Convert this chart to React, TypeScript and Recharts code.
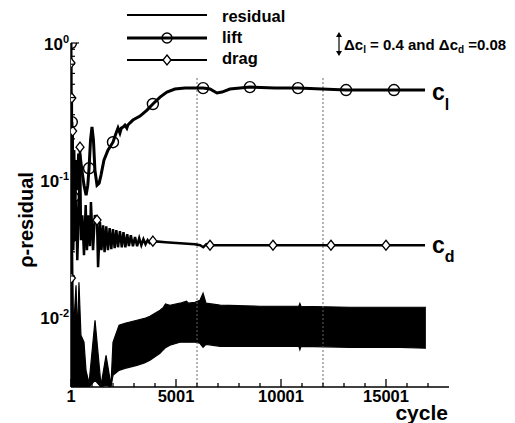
import React from 'react';
import { ComposedChart, Line, Area, XAxis, YAxis, ReferenceLine } from 'recharts';

// ---------- data ----------
// residual band: cycle, lower envelope, upper envelope
const residualCycles = [1, 50, 120, 240, 310, 380, 475, 620, 715, 860, 1145, 1430, 1670, 1905, 2000, 2290, 2570, 3140, 3500, 3760, 4240, 4400, 4500, 4710, 5190, 5500, 5600, 5900, 6140, 6290, 6430, 7100, 9000, 10850, 10900, 10950, 13290, 15670, 16900];
const residualLow = [0.0031, 0.0031, 0.0031, 0.0031, 0.0031, 0.0031, 0.0031, 0.0031, 0.0031, 0.0031, 0.00347, 0.0031, 0.00319, 0.0031, 0.00377, 0.0041, 0.00424, 0.00446, 0.00465, 0.00485, 0.00546, 0.0058, 0.0060, 0.00625, 0.00657, 0.00657, 0.00657, 0.00657, 0.00646, 0.00604, 0.00635, 0.00614, 0.00614, 0.00614, 0.0058, 0.00614, 0.00604, 0.00604, 0.00594];
const residualHigh = [1.0, 0.0715, 0.00804, 0.01713, 0.00739, 0.01801, 0.00739, 0.00657, 0.0041, 0.0033, 0.00951, 0.00319, 0.00528, 0.00319, 0.00657, 0.00874, 0.00904, 0.00951, 0.0098, 0.01017, 0.01125, 0.0118, 0.0125, 0.01224, 0.01266, 0.0131, 0.01266, 0.01287, 0.0133, 0.01497, 0.01266, 0.01224, 0.01203, 0.01203, 0.0126, 0.01203, 0.01183, 0.01183, 0.01183];

// lift coefficient (plotted on the residual axis)
const liftCycles = [1, 20, 40, 60, 80, 100, 140, 190, 240, 300, 360, 430, 520, 620, 720, 800, 860, 930, 1000, 1070, 1140, 1240, 1340, 1430, 1570, 1760, 2000, 2150, 2240, 2330, 2400, 2480, 2570, 2660, 2710, 2800, 2950, 3290, 3620, 3900, 4240, 4570, 4950, 5430, 5900, 6290, 6620, 6950, 7190, 7570, 8050, 8520, 9710, 10810, 11950, 13100, 14240, 15380, 16860];
const liftValues = [1.0, 0.0051, 0.265, 0.039, 0.107, 0.0751, 0.1656, 0.0604, 0.14, 0.0845, 0.1522, 0.1522, 0.1183, 0.0919, 0.0777, 0.0919, 0.122, 0.196, 0.244, 0.196, 0.1183, 0.0919, 0.095, 0.1088, 0.14, 0.1656, 0.189, 0.2205, 0.2397, 0.2205, 0.2397, 0.244, 0.252, 0.2397, 0.252, 0.2606, 0.2742, 0.2932, 0.3243, 0.359, 0.4033, 0.4388, 0.4616, 0.469, 0.469, 0.469, 0.4616, 0.432, 0.4388, 0.4616, 0.469, 0.477, 0.469, 0.469, 0.4616, 0.454, 0.454, 0.454, 0.454];
const liftMarkerCycles = [1, 20, 40, 60, 80, 100, 860, 2000, 3900, 6290, 8520, 10810, 13100, 15380];

// drag coefficient (plotted on the residual axis)
const dragCycles = [1, 20, 40, 60, 80, 110, 150, 200, 250, 300, 380, 430, 480, 540, 620, 700, 760, 830, 900, 950, 1050, 1140, 1240, 1290, 1380, 1450, 1530, 1600, 1680, 1760, 1840, 1920, 2000, 2080, 2160, 2240, 2330, 2420, 2500, 2590, 2680, 2760, 2850, 2950, 3050, 3150, 3250, 3350, 3450, 3550, 3650, 3750, 3900, 4500, 5200, 5900, 6150, 6300, 6450, 6620, 7500, 9620, 12380, 15000, 16860];
const dragValues = [0.7145, 0.0193, 0.397, 0.0604, 0.228, 0.0308, 0.0845, 0.0365, 0.0715, 0.0261, 0.0657, 0.174, 0.0365, 0.0555, 0.0284, 0.0657, 0.0308, 0.0555, 0.033, 0.0691, 0.0308, 0.0555, 0.0511, 0.0232, 0.0494, 0.0308, 0.0469, 0.0298, 0.0461, 0.0308, 0.0446, 0.0314, 0.0439, 0.0319, 0.0432, 0.0324, 0.0424, 0.0324, 0.0417, 0.0324, 0.0403, 0.033, 0.0397, 0.033, 0.0384, 0.033, 0.0377, 0.0335, 0.0371, 0.0341, 0.0365, 0.0347, 0.0359, 0.0353, 0.0347, 0.0341, 0.0335, 0.0324, 0.0341, 0.0335, 0.0335, 0.0335, 0.0335, 0.0335, 0.0335];
const dragMarkerCycles = [1, 20, 40, 80, 430, 1240, 3900, 6620, 9620, 12380, 15000];

// axes
const xTicks = [1, 1001, 2001, 3001, 4001, 5001, 6001, 7001, 8001, 9001, 10001, 11001, 12001, 13001, 14001, 15001, 16001, 17001];
const xMajorTicks = [1, 5001, 10001, 15001];
const yTicks = [1, 0.9, 0.8, 0.7, 0.6, 0.5, 0.4, 0.3, 0.2, 0.1, 0.09, 0.08, 0.07, 0.06, 0.05, 0.04, 0.03, 0.02, 0.01, 0.009, 0.008, 0.007, 0.006, 0.005, 0.004];
const yMajorTicks = [1, 0.1, 0.01];
const refCycles = [6001, 12001];
const refTop = 0.555;
const yDomain = [0.0031, 1];
const xDomain = [1, 18001];

const residualData = residualCycles.map((c, i) => ({ c, r: [residualLow[i], residualHigh[i]] }));
const liftData = liftCycles.map((c, i) => ({ c, v: liftValues[i] }));
const dragData = dragCycles.map((c, i) => ({ c, v: dragValues[i] }));

const FONT = "'Liberation Sans', Arial, Helvetica, sans-serif";

const XTick = (props: any) => {
  const { x, y, payload } = props;
  const major = xMajorTicks.includes(payload.value);
  return (
    <g>
      <line x1={x} x2={x} y1={y} y2={y - (major ? 8 : 4)} stroke="#000" strokeWidth={1.3} />
      {major && (
        <text x={x} y={y + 15} textAnchor="middle" fontFamily={FONT} fontWeight="bold" fontSize={16.5} fill="#000">
          {String(payload.value)}
        </text>
      )}
    </g>
  );
};

const YTick = (props: any) => {
  const { x, y, payload } = props;
  const major = yMajorTicks.includes(payload.value);
  const exp = Math.round(Math.log10(payload.value));
  return (
    <g>
      <line x1={x} x2={x + (major ? 8 : 4)} y1={y} y2={y} stroke="#000" strokeWidth={1.2} />
      {major && (
        <text x={x - 2} y={y + 7} textAnchor="end" fontFamily={FONT} fontWeight="bold" fontSize={17} fill="#000">
          10<tspan dy={-7} fontSize={11}>{String(exp)}</tspan>
        </text>
      )}
    </g>
  );
};

const liftDot = (p: any) =>
  liftMarkerCycles.includes(p.payload?.c) ? (
    <circle key={`ld${p.index}`} cx={p.cx} cy={p.cy} r={5.5} fill="none" stroke="#000" strokeWidth={1.4} />
  ) : (
    <g key={`ld${p.index}`} />
  );

const diamond = (cx: number, cy: number) => `${cx},${cy - 5} ${cx + 4},${cy} ${cx},${cy + 5} ${cx - 4},${cy}`;

const dragDot = (p: any) =>
  dragMarkerCycles.includes(p.payload?.c) ? (
    <polygon key={`dd${p.index}`} points={diamond(p.cx, p.cy)} fill="#fff" stroke="#000" strokeWidth={1.3} />
  ) : (
    <g key={`dd${p.index}`} />
  );

export default function App() {
  return (
    <div style={{ position: 'relative', width: 515, height: 423, background: '#fff' }}>
      <style>{'body{margin:0;background:#fff;}'}</style>
      <ComposedChart width={515} height={423} margin={{ top: 43, right: 66, bottom: 0, left: 0 }}>
        <XAxis
          type="number"
          dataKey="c"
          domain={xDomain}
          allowDataOverflow
          ticks={xTicks}
          interval={0}
          tick={<XTick />}
          tickLine={false}
          tickSize={0}
          tickMargin={0}
          height={36}
          axisLine={{ stroke: '#000', strokeWidth: 1.5 }}
        />
        <YAxis
          type="number"
          scale="log"
          domain={yDomain}
          allowDataOverflow
          ticks={yTicks}
          interval={0}
          tick={<YTick />}
          tickLine={false}
          tickSize={0}
          tickMargin={0}
          width={71}
          axisLine={{ stroke: '#000', strokeWidth: 1.5 }}
        />
        {refCycles.map((rc) => (
          <ReferenceLine
            key={rc}
            segment={[{ x: rc, y: refTop }, { x: rc, y: yDomain[0] }]}
            stroke="#666"
            strokeWidth={1}
            strokeDasharray="2 2"
          />
        ))}
        <Area
          data={residualData}
          dataKey="r"
          type="linear"
          stroke="#000"
          strokeWidth={1.2}
          fill="#000"
          fillOpacity={1}
          dot={false}
          activeDot={false}
          isAnimationActive={false}
        />
        <Line
          data={dragData}
          dataKey="v"
          type="linear"
          stroke="#000"
          strokeWidth={2.5}
          dot={dragDot}
          activeDot={false}
          isAnimationActive={false}
        />
        <Line
          data={liftData}
          dataKey="v"
          type="linear"
          stroke="#000"
          strokeWidth={3}
          dot={liftDot}
          activeDot={false}
          isAnimationActive={false}
        />
      </ComposedChart>
      <svg width={515} height={423} style={{ position: 'absolute', left: 0, top: 0, pointerEvents: 'none' }}>
        <g fontFamily={FONT} fontWeight="bold" fill="#000">
          {/* legend */}
          <line x1={127} x2={207} y1={15} y2={15} stroke="#000" strokeWidth={2} />
          <line x1={127} x2={207} y1={38} y2={38} stroke="#000" strokeWidth={3} />
          <circle cx={167} cy={38} r={5} fill="none" stroke="#000" strokeWidth={1.4} />
          <line x1={127} x2={207} y1={60} y2={60} stroke="#000" strokeWidth={2} />
          <polygon points={diamond(167, 60)} fill="#fff" stroke="#000" strokeWidth={1.3} />
          <text x={222} y={22} fontSize={16.5}>residual</text>
          <text x={222} y={43} fontSize={16.5}>lift</text>
          <text x={222} y={64} fontSize={16.5}>drag</text>
          {/* annotation */}
          <line x1={339} x2={339} y1={35} y2={53} stroke="#000" strokeWidth={1.2} />
          <polygon points="336,37 339,32 342,37" fill="#000" />
          <polygon points="336,51 339,56 342,51" fill="#000" />
          <text x={344} y={50} fontSize={15}>
            Δc<tspan dy={3} fontSize={10}>l</tspan>
            <tspan dy={-3}> = 0.4 and Δc</tspan>
            <tspan dy={3} fontSize={10}>d</tspan>
            <tspan dy={-3}> =0.08</tspan>
          </text>
          {/* curve labels */}
          <text x={432} y={100} fontSize={23}>
            c<tspan dy={10} fontSize={16}>l</tspan>
          </text>
          <text x={432} y={253} fontSize={23}>
            c<tspan dy={9} fontSize={16}>d</tspan>
          </text>
          {/* axis titles */}
          <text x={448} y={420} fontSize={21} textAnchor="end">cycle</text>
          <text transform="translate(33,220) rotate(-90)" fontSize={20} textAnchor="middle">ρ-residual</text>
        </g>
      </svg>
    </div>
  );
}
